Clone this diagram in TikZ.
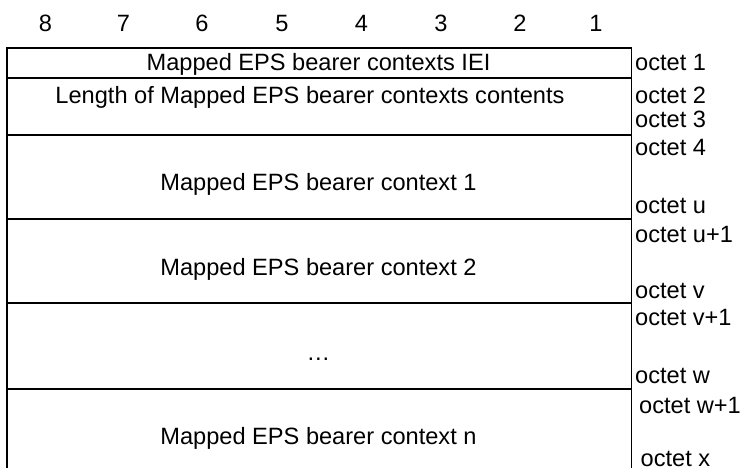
\documentclass[tikz,border=0pt]{standalone}
\usepackage{fontspec}
\setmainfont{Liberation Sans}
\begin{document}
\begin{tikzpicture}[x=1pt,y=-1pt,
  rowbox/.style={draw, line width=1.9pt, minimum width=624.5pt, inner sep=0pt, outer sep=0pt},
  txt/.style={anchor=base, inner sep=0pt, font=\fontsize{23.6}{28}\selectfont},
  oct/.style={anchor=base west, inner sep=0pt, font=\fontsize{23.6}{28}\selectfont},
  bit/.style={anchor=base, inner sep=0pt, font=\fontsize{23.6}{28}\selectfont}]
\useasboundingbox (0,0) rectangle (741,468);
% bit numbers
\node[bit] (b8) at (45.5,31.5) {8};
\node[bit] (b7) at (123.5,31.5) {7};
\node[bit] (b6) at (202,31.5) {6};
\node[bit] (b5) at (282,31.5) {5};
\node[bit] (b4) at (361.5,31.5) {4};
\node[bit] (b3) at (441,31.5) {3};
\node[bit] (b2) at (520,31.5) {2};
\node[bit] (b1) at (596,31.5) {1};
% rows
\node[rowbox, minimum height=30pt] (r1) at (319.25,62.7) {};
\node[rowbox, minimum height=57pt] (r2) at (319.25,106.2) {};
\node[rowbox, minimum height=84.3pt] (r3) at (319.25,176.85) {};
\node[rowbox, minimum height=84.3pt] (r4) at (319.25,261.15) {};
\node[rowbox, minimum height=85.7pt] (r5) at (319.25,346.15) {};
\node[rowbox, minimum height=90pt] (r6) at (319.25,434) {};
% row texts
\node[txt] (t1) at (318.5,71) {Mapped EPS bearer contexts IEI};
\node[txt] (t2) at (310,103) {Length of Mapped EPS bearer contexts contents};
\node[txt] (t3) at (318.5,190) {Mapped EPS bearer context 1};
\node[txt] (t4) at (318.5,275) {Mapped EPS bearer context 2};
\node[txt] (t5) at (318.5,360) {\dots};
\node[txt] (t6) at (318.5,444) {Mapped EPS bearer context n};
% octet labels
\node[oct] (o1) at (635,71) {octet 1};
\node[oct] (o2) at (635,103) {octet 2};
\node[oct] (o3) at (635,128) {octet 3};
\node[oct] (o4) at (635,155) {octet 4};
\node[oct] (ou) at (635,213) {octet u};
\node[oct] (ou1) at (635,242) {octet u+1};
\node[oct] (ov) at (635,298) {octet v};
\node[oct] (ov1) at (635,325) {octet v+1};
\node[oct] (ow) at (635,383) {octet w};
\node[oct] (ow1) at (639,413) {octet w+1};
\node[oct] (ox) at (640.5,466) {octet x};
\end{tikzpicture}
\end{document}
